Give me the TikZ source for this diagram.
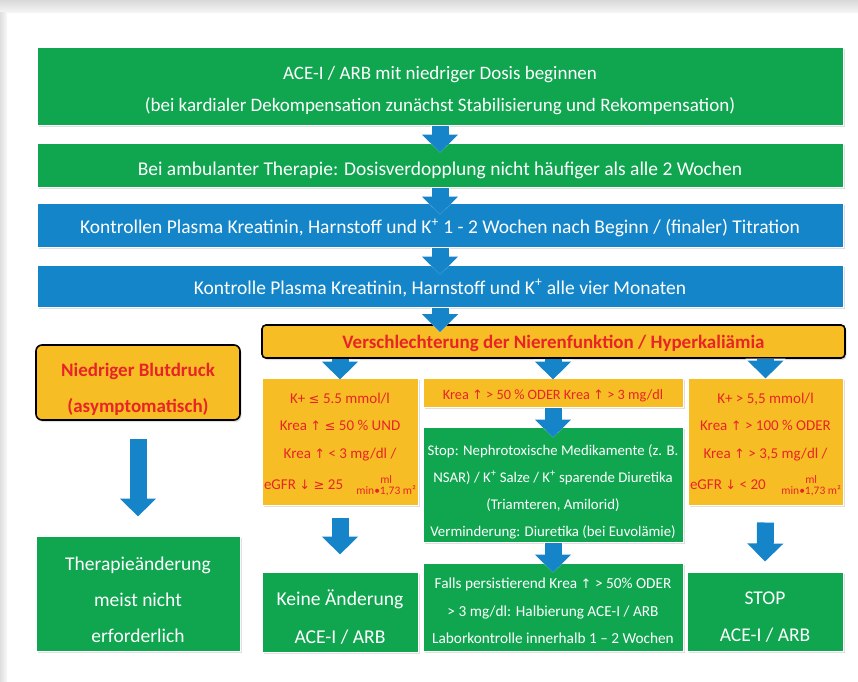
\documentclass[tikz,border=0pt]{standalone}
\usepackage{fontspec}
\setmainfont{Carlito}
\newfontfamily\symf{DejaVu Sans}
\usetikzlibrary{arrows.meta,shadows,calc}
\definecolor{gbox}{RGB}{16,166,80}
\definecolor{bbox}{RGB}{19,133,200}
\definecolor{ybox}{RGB}{246,190,36}
\definecolor{rtxt}{RGB}{232,36,40}
\definecolor{arr}{RGB}{22,132,200}
\newcommand{\myup}{{\symf\fontsize{13}{13}\selectfont ↑}}
\newcommand{\mydn}{{\symf\fontsize{13}{13}\selectfont ↓}}
\newcommand{\myle}{{\symf\fontsize{13}{13}\selectfont ≤}}
\newcommand{\myge}{{\symf\fontsize{13}{13}\selectfont ≥}}
\newcommand{\unitfrac}{{\fontsize{11.5}{11.5}\selectfont\begin{tabular}{@{}c@{}}ml\\[-1pt]min•1,73 m²\end{tabular}}}
\tikzset{
  base/.style={inner sep=0pt, drop shadow={shadow xshift=1.5pt, shadow yshift=-2pt, opacity=0.25}},
  gbx/.style={base, fill=gbox, draw=white, line width=1pt},
  bbx/.style={base, fill=bbox, draw=white, line width=1pt},
  ybx/.style={base, fill=ybox, draw=white, line width=1pt},
  hbx/.style={base, fill=ybox, draw=black, line width=1.6pt, rounded corners=4pt},
  lw/.style={text=white, align=center, inner sep=0pt},
  ly/.style={text=rtxt, align=center, inner sep=0pt},
  bigf/.style={font=\fontsize{19.5}{32}\selectfont},
  smf/.style={font=\fontsize{15}{27.5}\selectfont},
  barr/.style={draw=arr, line width=17pt, -{Triangle[width=35pt,length=18pt]},
    preaction={draw=white, line width=19pt, -{Triangle[width=39pt,length=20pt]}}}
}
\begin{document}
\begin{tikzpicture}[x=1pt,y=-1pt]
\useasboundingbox (0,0) rectangle (858,681);
\fill[white] (0,0) rectangle (858,681);
\shade[top color=gray!30, bottom color=gray!8] (0,0) rectangle (858,12);
\shade[left color=gray!25, right color=gray!5] (0,12) rectangle (7,681);

\node[gbx, minimum width=806pt, minimum height=78pt,
  label={[lw, font=\fontsize{19}{32}\selectfont, yshift=-5pt]center:{ACE-I / ARB mit niedriger Dosis beginnen\\(bei kardialer Dekompensation zunächst Stabilisierung und Rekompensation)}}] (b1) at (440,86) {};
\node[gbx, minimum width=806pt, minimum height=44pt,
  label={[lw, bigf, yshift=-5pt]center:{Bei ambulanter Therapie: Dosisverdopplung nicht häufiger als alle 2 Wochen}}] (b2) at (440,165) {};
\node[bbx, minimum width=806pt, minimum height=44pt,
  label={[lw, bigf, yshift=-3pt]center:{Kontrollen Plasma Kreatinin, Harnstoff und K\textsuperscript{+} 1 - 2 Wochen nach Beginn / (finaler) Titration}}] (b3) at (440,225) {};
\node[bbx, minimum width=806pt, minimum height=42pt,
  label={[lw, bigf, yshift=-2pt]center:{Kontrolle Plasma Kreatinin, Harnstoff und K\textsuperscript{+} alle vier Monaten}}] (b4) at (440,286) {};
\node[hbx, minimum width=583pt, minimum height=33pt,
  label={[ly, font=\bfseries\fontsize{19}{20}\selectfont, yshift=-2pt]center:{Verschlechterung der Nierenfunktion / Hyperkaliämia}}] (hd) at (553.5,341.5) {};
\node[hbx, rounded corners=6pt, minimum width=204pt, minimum height=75pt,
  label={[ly, font=\bfseries\fontsize{19}{36}\selectfont, yshift=-7pt]center:{Niedriger Blutdruck\\(asymptomatisch)}}] (nb) at (138,382.5) {};

\node[ybx, minimum width=156pt, minimum height=127pt,
  label={[ly, smf, yshift=-4pt]center:{K+ \myle{} 5.5 mmol/l\\Krea \myup{} \myle{} 50 \% UND\\Krea \myup{} < 3 mg/dl /\\[4pt]
   \makebox[152pt]{eGFR \mydn{} \myge{} 25\hfill\unitfrac}}}] (lc) at (340,441.5) {};
\node[ybx, minimum width=260pt, minimum height=29pt,
  label={[ly, font=\fontsize{14.3}{20}\selectfont, yshift=-3pt]center:{Krea \myup{} > 50 \% ODER Krea \myup{} > 3 mg/dl}}] (my) at (553,392.5) {};
\node[gbx, minimum width=260pt, minimum height=115pt,
  label={[lw, font=\fontsize{14.8}{27}\selectfont, yshift=-7pt]center:{Stop: Nephrotoxische Medikamente (z. B.\\NSAR) / K\textsuperscript{+} Salze / K\textsuperscript{+} sparende Diuretika\\(Triamteren, Amilorid)\\Verminderung: Diuretika (bei Euvolämie)}}] (mg) at (553,484.5) {};
\node[ybx, minimum width=155pt, minimum height=127pt,
  label={[ly, smf, yshift=-4pt]center:{K+ > 5,5 mmol/l\\Krea \myup{} > 100 \% ODER\\Krea \myup{} > 3,5 mg/dl /\\[4pt]
   \makebox[151pt]{eGFR \mydn{} < 20\hfill\unitfrac}}}] (rc) at (765.5,441.5) {};

\node[gbx, minimum width=204pt, minimum height=115pt,
  label={[lw, font=\fontsize{19.5}{36}\selectfont, yshift=-6pt]center:{Therapieänderung\\meist nicht\\erforderlich}}] (th) at (138,593.5) {};
\node[gbx, minimum width=156pt, minimum height=80pt,
  label={[lw, font=\fontsize{19.6}{38}\selectfont, yshift=-5pt]center:{Keine Änderung\\ACE-I / ARB}}] (ke) at (340,612) {};
\node[gbx, minimum width=260pt, minimum height=88pt,
  label={[lw, font=\fontsize{15.3}{27.5}\selectfont, yshift=-4pt]center:{Falls persistierend Krea \myup{} > 50\% ODER\\> 3 mg/dl: Halbierung ACE-I / ARB\\Laborkontrolle innerhalb 1 – 2 Wochen}}] (fa) at (553,607) {};
\node[gbx, minimum width=156pt, minimum height=79pt,
  label={[lw, font=\fontsize{19.5}{37}\selectfont, yshift=-6pt]center:{STOP\\ACE-I / ARB}}] (st) at (765,611.5) {};

\draw[barr] (b1.south) -- ([yshift=-10pt]b2.north);
\draw[barr] (b2.south) -- ([yshift=-12pt]b3.north);
\draw[barr] (b3.south) -- ([yshift=-10pt]b4.north);
\draw[barr] (b4.south) -- ([yshift=-8pt]b4.south |- hd.north);
\draw[barr] (hd.south -| lc.north) -- ([yshift=-2pt]lc.north);
\draw[barr] (hd.south -| my.north) -- ([yshift=-2pt]my.north);
\draw[barr] (hd.south -| rc.north) -- ([yshift=-1pt]rc.north);
\draw[barr] (my.south) -- ([yshift=-11pt]mg.north);
\draw[barr] (mg.south) -- ([yshift=-10pt]fa.north);
\draw[barr] ([yshift=-12pt]lc.south) -- ([yshift=17pt]ke.north);
\draw[barr] ([yshift=-17pt]rc.south) -- ([yshift=10pt]st.north);
\draw[barr] ([yshift=-18pt]nb.south) -- ([yshift=19pt]th.north);
\end{tikzpicture}
\end{document}
